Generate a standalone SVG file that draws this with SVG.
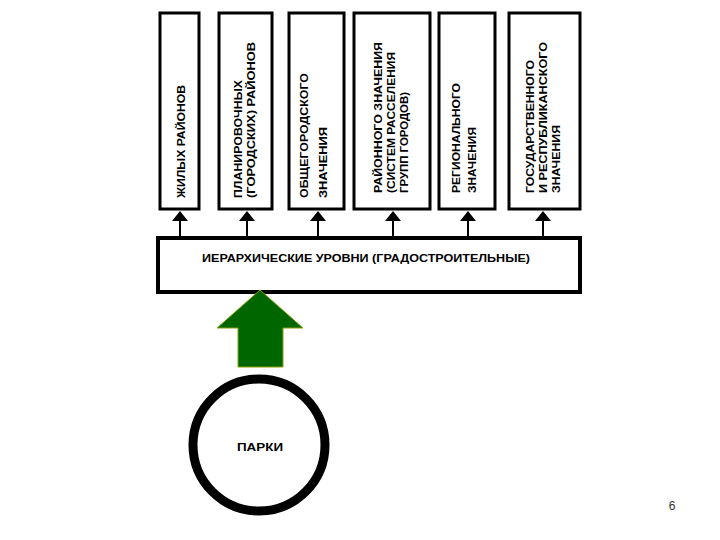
<svg xmlns="http://www.w3.org/2000/svg" width="720" height="540" viewBox="0 0 720 540">
<style>
.box{fill:#fff;stroke:#000;stroke-width:3}
.t{font-family:"Liberation Sans",Arial,sans-serif;font-weight:bold;font-size:11px;fill:#000}
.v{text-anchor:start}
.line{stroke:#000;stroke-width:2}
</style>
<rect width="720" height="540" fill="#fff"/>
<g id="n1"><rect class="box" x="160" y="13" width="39" height="196"/>
<text class="t v" transform="translate(185,198) rotate(-90)" textLength="113" lengthAdjust="spacingAndGlyphs">ЖИЛЫХ РАЙОНОВ</text></g>
<g id="n2"><rect class="box" x="219" y="13" width="53" height="196"/>
<text class="t v" transform="translate(242,198) rotate(-90)" textLength="118" lengthAdjust="spacingAndGlyphs">ПЛАНИРОВОЧНЫХ</text>
<text class="t v" transform="translate(255,198) rotate(-90)" textLength="156" lengthAdjust="spacingAndGlyphs">(ГОРОДСКИХ) РАЙОНОВ</text></g>
<g id="n3"><rect class="box" x="289" y="13" width="55" height="196"/>
<text class="t v" transform="translate(308,198) rotate(-90)" textLength="125" lengthAdjust="spacingAndGlyphs">ОБЩЕГОРОДСКОГО</text>
<text class="t v" transform="translate(327,198) rotate(-90)" textLength="71" lengthAdjust="spacingAndGlyphs">ЗНАЧЕНИЯ</text></g>
<g id="n4"><rect class="box" x="354" y="13" width="76" height="196"/>
<text class="t v" transform="translate(382,193) rotate(-90)" textLength="151" lengthAdjust="spacingAndGlyphs">РАЙОННОГО ЗНАЧЕНИЯ</text>
<text class="t v" transform="translate(395,193) rotate(-90)" textLength="141" lengthAdjust="spacingAndGlyphs">(СИСТЕМ РАССЕЛЕНИЯ</text>
<text class="t v" transform="translate(408,193) rotate(-90)" textLength="101" lengthAdjust="spacingAndGlyphs">ГРУПП ГОРОДОВ)</text></g>
<g id="n5"><rect class="box" x="439" y="13" width="56" height="196"/>
<text class="t v" transform="translate(460,193) rotate(-90)" textLength="110" lengthAdjust="spacingAndGlyphs">РЕГИОНАЛЬНОГО</text>
<text class="t v" transform="translate(476,193) rotate(-90)" textLength="66" lengthAdjust="spacingAndGlyphs">ЗНАЧЕНИЯ</text></g>
<g id="n6"><rect class="box" x="509" y="13" width="71" height="196"/>
<text class="t v" transform="translate(534,193) rotate(-90)" textLength="133" lengthAdjust="spacingAndGlyphs">ГОСУДАРСТВЕННОГО</text>
<text class="t v" transform="translate(547,193) rotate(-90)" textLength="151" lengthAdjust="spacingAndGlyphs">И РЕСПУБЛИКАНСКОГО</text>
<text class="t v" transform="translate(560,193) rotate(-90)" textLength="68" lengthAdjust="spacingAndGlyphs">ЗНАЧЕНИЯ</text></g>
<g id="hub"><rect x="158" y="238" width="422" height="54" fill="#fff" stroke="#000" stroke-width="4"/>
<text class="t" x="202" y="262" textLength="328" lengthAdjust="spacingAndGlyphs">ИЕРАРХИЧЕСКИЕ  УРОВНИ (ГРАДОСТРОИТЕЛЬНЫЕ)</text></g>
<g id="connectors">
<path class="line" d="M180,236V212M247,236V212M318,236V212M393,236V212M468,236V212M543,236V212"/>
<path fill="#000" d="M180,211l8,10h-16zM247,211l8,10h-16zM318,211l8,10h-16zM393,211l8,10h-16zM468,211l8,10h-16zM543,211l8,10h-16z"/>
<path d="M260,290 L303,328 L283,328 L283,367 L238,367 L238,328 L217,328 Z" fill="#006600" stroke="#8aa000" stroke-width="1"/>
</g>
<g id="parks"><circle cx="259" cy="445" r="66" fill="#fff" stroke="#000" stroke-width="9"/>
<text class="t" x="237" y="451" textLength="46" lengthAdjust="spacingAndGlyphs">ПАРКИ</text></g>
<text x="672" y="510" font-family="Liberation Sans,Arial,sans-serif" font-size="12" fill="#333" text-anchor="middle">6</text>
</svg>
